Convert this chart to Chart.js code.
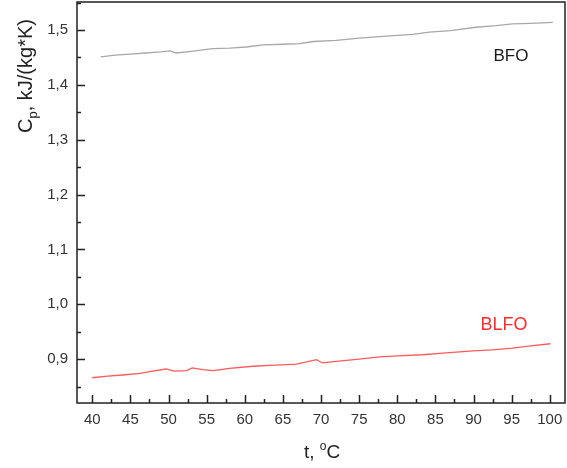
<!DOCTYPE html>
<html>
<head>
<meta charset="utf-8">
<script src="https://cdn.jsdelivr.net/npm/chart.js@4.4.0/dist/chart.umd.min.js"></script>
<style>
	html, body { margin: 0; padding: 0; background: #fff; }
	#wrap { width: 567px; height: 468px; }
</style>
</head>
<body>
<div id="wrap"><canvas id="c"></canvas></div>
<script>
// values
const bfoT = [41.1, 43, 45, 47, 49, 50.2, 51, 53, 55.8, 58, 60.2, 62.4, 65, 67.2, 69, 72, 75, 77.7, 80, 82, 84.2, 87, 90.3, 93, 95.1, 97.5, 100.4];
const bfoCp = [1.451, 1.454, 1.456, 1.458, 1.460, 1.462, 1.458, 1.461, 1.466, 1.467, 1.469, 1.473, 1.474, 1.475, 1.479, 1.481, 1.485, 1.488, 1.490, 1.492, 1.496, 1.499, 1.505, 1.508, 1.511, 1.512, 1.514];
const blfoT = [40, 42, 44, 46.3, 47.5, 49.7, 50.7, 52.4, 53.1, 54.5, 55.9, 58, 61.1, 64, 66.8, 69.4, 70.2, 72, 75, 77.7, 80, 83.3, 86, 89.9, 92.5, 95.1, 97.5, 100.1];
const blfoCp = [0.866, 0.869, 0.871, 0.874, 0.877, 0.882, 0.878, 0.879, 0.884, 0.881, 0.879, 0.883, 0.887, 0.889, 0.891, 0.899, 0.893, 0.896, 0.900, 0.904, 0.906, 0.908, 0.911, 0.915, 0.917, 0.920, 0.924, 0.928];
const xTicks = [40, 45, 50, 55, 60, 65, 70, 75, 80, 85, 90, 95, 100];
const yTicks = [0.9, 1.0, 1.1, 1.2, 1.3, 1.4, 1.5];

const toPts = (xs, ys) => xs.map((x, i) => ({ x: x, y: ys[i] }));
const FONT = '"Liberation Sans", Arial, sans-serif';

const framePlugin = {
	id: 'frame',
	afterDraw(chart) {
		const ctx = chart.ctx;
		const a = chart.chartArea;
		const xs = chart.scales.x, ys = chart.scales.y;
		ctx.save();
		ctx.strokeStyle = '#222';
		ctx.lineWidth = 1.5;
		ctx.strokeRect(a.left, a.top, a.right - a.left, a.bottom - a.top);
		ctx.beginPath();
		xTicks.forEach(v => {
			const px = Math.round(xs.getPixelForValue(v)) + 0.5;
			ctx.moveTo(px, a.bottom); ctx.lineTo(px, a.bottom - 8);
			const m = Math.round(xs.getPixelForValue(v + 2.5)) + 0.5;
			if (v + 2.5 < xs.max) { ctx.moveTo(m, a.bottom); ctx.lineTo(m, a.bottom - 4); }
		});
		const yMinor = [0.85].concat(yTicks.map(v => v + 0.05));
		yTicks.forEach(v => {
			const py = Math.round(ys.getPixelForValue(v)) + 0.5;
			ctx.moveTo(a.left, py); ctx.lineTo(a.left + 8, py);
		});
		yMinor.forEach(v => {
			if (v > ys.max) return;
			const py = Math.round(ys.getPixelForValue(v)) + 0.5;
			ctx.moveTo(a.left, py); ctx.lineTo(a.left + 4, py);
		});
		ctx.stroke();

		// series labels
		ctx.font = '17px ' + FONT;
		ctx.textAlign = 'center';
		ctx.textBaseline = 'middle';
		ctx.fillStyle = '#1a1a1a';
		ctx.fillText('BFO', 511, 56);
		ctx.fillStyle = '#ff2a2a';
		ctx.font = '18px ' + FONT;
		ctx.fillText('BLFO', 504, 325);

		// x title: t, °C
		ctx.fillStyle = '#222';
		ctx.textAlign = 'left';
		ctx.textBaseline = 'alphabetic';
		ctx.font = '19px ' + FONT;
		let x0 = 304, yb = 458;
		ctx.fillText('t, ', x0, yb);
		x0 += ctx.measureText('t, ').width;
		ctx.font = '12px ' + FONT;
		ctx.fillText('o', x0, yb - 8);
		x0 += ctx.measureText('o').width;
		ctx.font = '19px ' + FONT;
		ctx.fillText('C', x0, yb);

		// y title: Cp, kJ/(kg*K)
		ctx.translate(32, 133);
		ctx.rotate(-Math.PI / 2);
		ctx.font = '20px ' + FONT;
		let t = 0;
		ctx.fillText('C', t, 0);
		t += ctx.measureText('C').width;
		ctx.font = '13px ' + FONT;
		ctx.fillText('p', t, 5);
		t += ctx.measureText('p').width;
		ctx.font = '20px ' + FONT;
		ctx.fillText(', kJ/(kg*K)', t, 0);
		ctx.restore();
	}
};

new Chart(document.getElementById('c'), {
	type: 'scatter',
	data: {
		datasets: [
			{ label: 'BFO', data: toPts(bfoT, bfoCp), showLine: true, borderColor: '#a8a8a8', borderWidth: 1.3, pointRadius: 0, tension: 0 },
			{ label: 'BLFO', data: toPts(blfoT, blfoCp), showLine: true, borderColor: '#ff5a5a', borderWidth: 1.3, pointRadius: 0, tension: 0 }
		]
	},
	options: {
		responsive: true,
		maintainAspectRatio: false,
		animation: false,
		layout: { padding: { top: 2, right: 2, left: 0, bottom: 0 } },
		plugins: { legend: { display: false }, tooltip: { enabled: false } },
		scales: {
			x: {
				type: 'linear', min: 38, max: 102,
				grid: { display: false, drawTicks: false },
				border: { display: false },
				afterBuildTicks: s => { s.ticks = xTicks.map(v => ({ value: v })); },
				afterFit: s => { s.height = 65; s.paddingLeft = 0; s.paddingRight = 0; },
				ticks: { padding: 8, color: '#333', font: { family: FONT, size: 15 }, maxRotation: 0, autoSkip: false,
					callback: v => String(v) }
			},
			y: {
				type: 'linear', min: 0.82, max: 1.551,
				grid: { display: false, drawTicks: false },
				border: { display: false },
				afterBuildTicks: s => { s.ticks = yTicks.map(v => ({ value: v })); },
				afterFit: s => { s.width = 77; s.paddingTop = 0; s.paddingBottom = 0; },
				ticks: { padding: 9, color: '#333', font: { family: FONT, size: 15 }, autoSkip: false,
					callback: v => v.toFixed(1).replace('.', ',') }
			}
		}
	},
	plugins: [framePlugin]
});
</script>
</body>
</html>
